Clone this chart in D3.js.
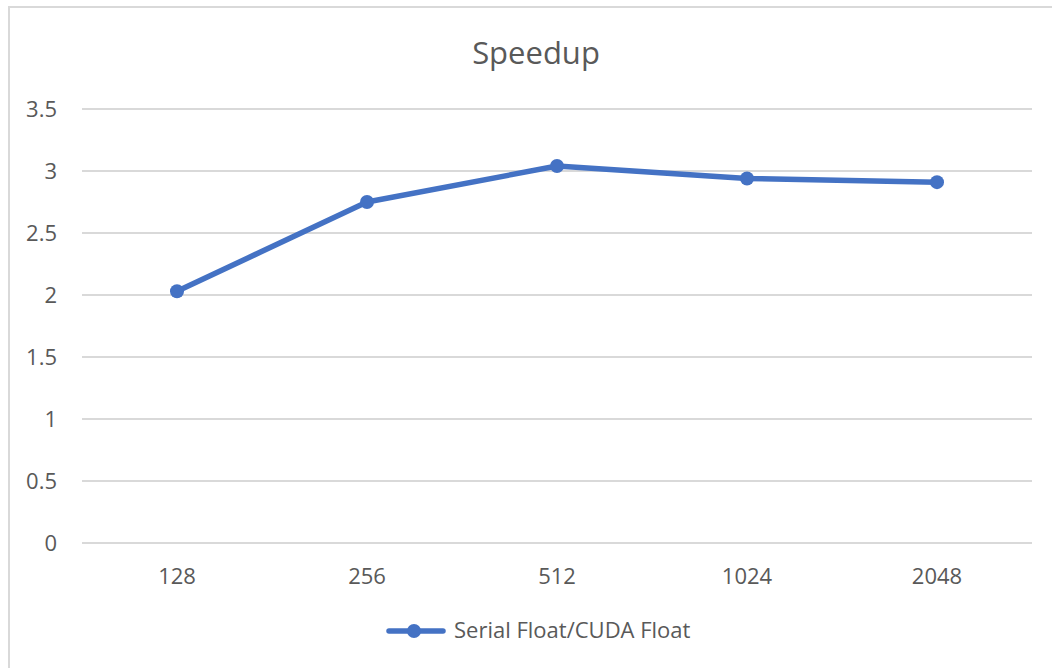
<!DOCTYPE html>
<html>
<head>
<meta charset="utf-8">
<script src="https://cdn.jsdelivr.net/npm/d3@7"></script>
<style>
  html, body { margin: 0; padding: 0; background: #fff; }
  svg { display: block; }
  text { font-family: "Open Sans", "Noto Sans", sans-serif; }
</style>
</head>
<body>
<svg id="chart" width="1052" height="668"></svg>
<script>
const title = "Speedup";
const categories = ["128", "256", "512", "1024", "2048"];
const seriesName = "Serial Float/CUDA Float";
const values = [2.03, 2.75, 3.04, 2.94, 2.91];
const yTicks = [0, 0.5, 1, 1.5, 2, 2.5, 3, 3.5];

const svg = d3.select("#chart");
const W = 1052, H = 668;
const plot = { left: 82, right: 1032, top: 109, bottom: 543 };
const color = "#4472C4";
const textColor = "#595959";
const gridColor = "#d9d9d9";

// chart border (left and top edges visible)
svg.append("line").attr("x1", 9).attr("x2", 9).attr("y1", 6).attr("y2", H)
  .attr("stroke", gridColor).attr("stroke-width", 2);
svg.append("line").attr("x1", 8).attr("x2", W).attr("y1", 7).attr("y2", 7)
  .attr("stroke", gridColor).attr("stroke-width", 2);

const x = d3.scaleBand().domain(categories).range([plot.left, plot.right]);
const y = d3.scaleLinear().domain([0, 3.5]).range([plot.bottom, plot.top]);

// gridlines
svg.append("g").selectAll("line").data(yTicks).join("line")
  .attr("x1", plot.left).attr("x2", plot.right)
  .attr("y1", d => y(d)).attr("y2", d => y(d))
  .attr("stroke", gridColor).attr("stroke-width", 2);

// y axis labels
const yAxis = d3.axisLeft(y).tickValues(yTicks).tickSize(0).tickPadding(25)
  .tickFormat(d => String(d));
const yg = svg.append("g").attr("transform", `translate(${plot.left},0)`).call(yAxis);
yg.select(".domain").remove();
yg.selectAll("text").attr("fill", textColor).style("font-size", "22px")
  .style("font-family", "'Open Sans', sans-serif");

// x axis labels
const xAxis = d3.axisBottom(x).tickSize(0).tickPadding(25);
const xg = svg.append("g").attr("transform", `translate(0,${plot.bottom})`).call(xAxis);
xg.select(".domain").remove();
xg.selectAll("text").attr("fill", textColor).style("font-size", "22px")
  .style("font-family", "'Open Sans', sans-serif");

// line
const line = d3.line()
  .x((d, i) => x(categories[i]) + x.bandwidth() / 2)
  .y(d => y(d));
svg.append("path").datum(values).attr("d", line)
  .attr("fill", "none").attr("stroke", color).attr("stroke-width", 5.5)
  .attr("stroke-linejoin", "round").attr("stroke-linecap", "round");

svg.append("g").selectAll("circle").data(values).join("circle")
  .attr("cx", (d, i) => x(categories[i]) + x.bandwidth() / 2)
  .attr("cy", d => y(d)).attr("r", 7).attr("fill", color);

// title
svg.append("text").attr("x", 536).attr("y", 64).attr("text-anchor", "middle")
  .attr("fill", textColor).style("font-size", "31px").text(title);

// legend
const lg = svg.append("g");
lg.append("line").attr("x1", 389).attr("x2", 443).attr("y1", 631).attr("y2", 631)
  .attr("stroke", color).attr("stroke-width", 5.5).attr("stroke-linecap", "round");
lg.append("circle").attr("cx", 414).attr("cy", 631).attr("r", 7).attr("fill", color);
lg.append("text").attr("x", 454).attr("y", 638).attr("fill", textColor)
  .style("font-size", "22px").text(seriesName);
</script>
</body>
</html>
